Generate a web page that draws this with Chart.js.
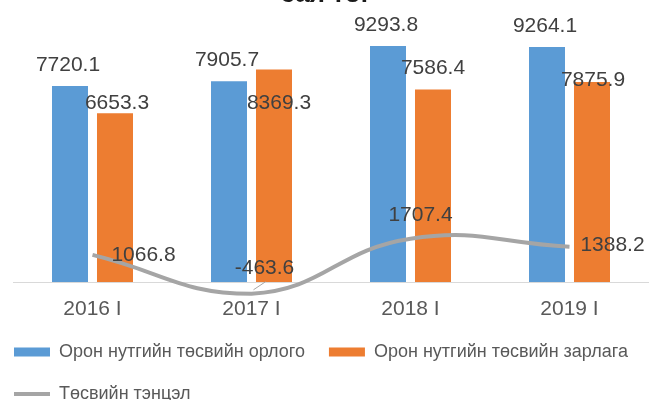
<!DOCTYPE html>
<html>
<head>
<meta charset="utf-8">
<script src="https://cdn.jsdelivr.net/npm/chart.js@4.4.1/dist/chart.umd.min.js"></script>
<style>
  html, body { margin: 0; padding: 0; background: #fff; overflow: hidden; }
  #wrap { position: relative; width: 652px; height: 400px; overflow: hidden; }
  #chart { position: absolute; left: -24px; top: -30px; }
</style>
</head>
<body>
<div id="wrap"><canvas id="chart" width="700" height="443"></canvas></div>
<script>
const categories = ['2016 I', '2017 I', '2018 I', '2019 I'];
const revenue = [7720.1, 7905.7, 9293.8, 9264.1];
const spending = [6653.3, 8369.3, 7586.4, 7875.9];
const balance = [1066.8, -463.6, 1707.4, 1388.2];
const seriesNames = ['Орон нутгийн төсвийн орлого', 'Орон нутгийн төсвийн зарлага', 'Төсвийн тэнцэл'];
const titleText = 'сая төг';

// labels were moved by hand in the source chart, so nudge them (px)
const labelNudge = [
    { dx: [-2, -2, -2, -2], dy: [-21, -21, -21, -21] },
    { dx: [2, 5, 0, 1], dy: [-10, 34, -21, -2] },
    { dx: [51, 13, 10, 43], dy: [0, -26, -23, -2] },
];

const FONT = '"Liberation Sans", Arial, sans-serif';

const zeroLine = {
    id: 'zeroLine',
    beforeDatasetsDraw(chart) {
        const { ctx, chartArea, scales } = chart;
        const y = Math.round(scales.y.getPixelForValue(0)) + 0.5;
        ctx.save();
        ctx.strokeStyle = '#d9d9d9';
        ctx.lineWidth = 1;
        ctx.beginPath();
        ctx.moveTo(chartArea.left, y);
        ctx.lineTo(chartArea.right, y);
        ctx.stroke();
        ctx.restore();
    },
};

const valueLabels = {
    id: 'valueLabels',
    afterDatasetsDraw(chart) {
        const ctx = chart.ctx;
        ctx.save();
        ctx.font = '21px ' + FONT;
        ctx.fillStyle = '#404040';
        ctx.textAlign = 'center';
        ctx.textBaseline = 'middle';
        chart.data.datasets.forEach((ds, di) => {
            const meta = chart.getDatasetMeta(di);
            meta.data.forEach((el, i) => {
                const x = el.x + labelNudge[di].dx[i];
                const y = el.y + labelNudge[di].dy[i];
                if (di === 2 && ds.data[i] < 0) {
                    // small leader line back to the point
                    ctx.strokeStyle = '#a6a6a6';
                    ctx.lineWidth = 1;
                    ctx.beginPath();
                    ctx.moveTo(el.x + 2, el.y - 4);
                    ctx.lineTo(x + 1, y + 14);
                    ctx.stroke();
                }
                ctx.fillText(ds.data[i].toFixed(1), x, y);
            });
        });
        ctx.restore();
    },
};

// the first legend key sits close to the left edge in the original
const legendNudge = {
    id: 'legendNudge',
    afterLayout(chart) {
        chart.legend.left += 14;
    },
};

// invisible side axes only reserve room, so the legend keeps the full width
const hiddenAxis = (width) => ({
    grid: { display: false, drawTicks: false },
    border: { display: false },
    ticks: { display: false },
    afterFit(scale) { scale.width = width; },
});

const ctx = document.getElementById('chart').getContext('2d');

new Chart(ctx, {
    type: 'bar',
    data: {
        labels: categories,
        datasets: [{
            label: seriesNames[0],
            data: revenue,
            backgroundColor: '#5b9bd5',
            pointStyle: 'rect',
            order: 1,
        }, {
            label: seriesNames[1],
            data: spending,
            backgroundColor: '#ed7d31',
            pointStyle: 'rect',
            order: 1,
        }, {
            type: 'line',
            label: seriesNames[2],
            data: balance,
            borderColor: '#a5a5a5',
            backgroundColor: '#a5a5a5',
            borderWidth: 4,
            tension: 0.45,
            pointRadius: 0,
            pointHoverRadius: 0,
            pointStyle: 'line',
            clip: false,
            order: 0,
        }],
    },
    options: {
        responsive: false,
        animation: false,
        categoryPercentage: 0.566,
        barPercentage: 0.8,
        layout: { padding: 0 },
        plugins: {
            title: {
                display: true,
                text: titleText,
                color: '#1a1a1a',
                font: { family: FONT, size: 26, weight: 'bold' },
                padding: { top: 9, bottom: 18 },
            },
            legend: {
                position: 'bottom',
                align: 'start',
                labels: {
                    usePointStyle: true,
                    pointStyleWidth: 36,
                    boxHeight: 9,
                    padding: 24,
                    color: '#595959',
                    font: { family: FONT, size: 18 },
                    sort: (a, b) => a.datasetIndex - b.datasetIndex,
                },
            },
            tooltip: { enabled: false },
        },
        scales: {
            x: {
                grid: { display: false, drawTicks: false },
                border: { display: false },
                ticks: {
                    padding: 3,
                    color: '#595959',
                    font: { family: FONT, size: 21 },
                },
                afterFit(scale) { scale.height -= 6; },
            },
            y: {
                min: -465,
                max: 10000,
                ...hiddenAxis(37),
            },
            y2: {
                position: 'right',
                ...hiddenAxis(27),
            },
        },
    },
    plugins: [zeroLine, valueLabels, legendNudge],
});
</script>
</body>
</html>
